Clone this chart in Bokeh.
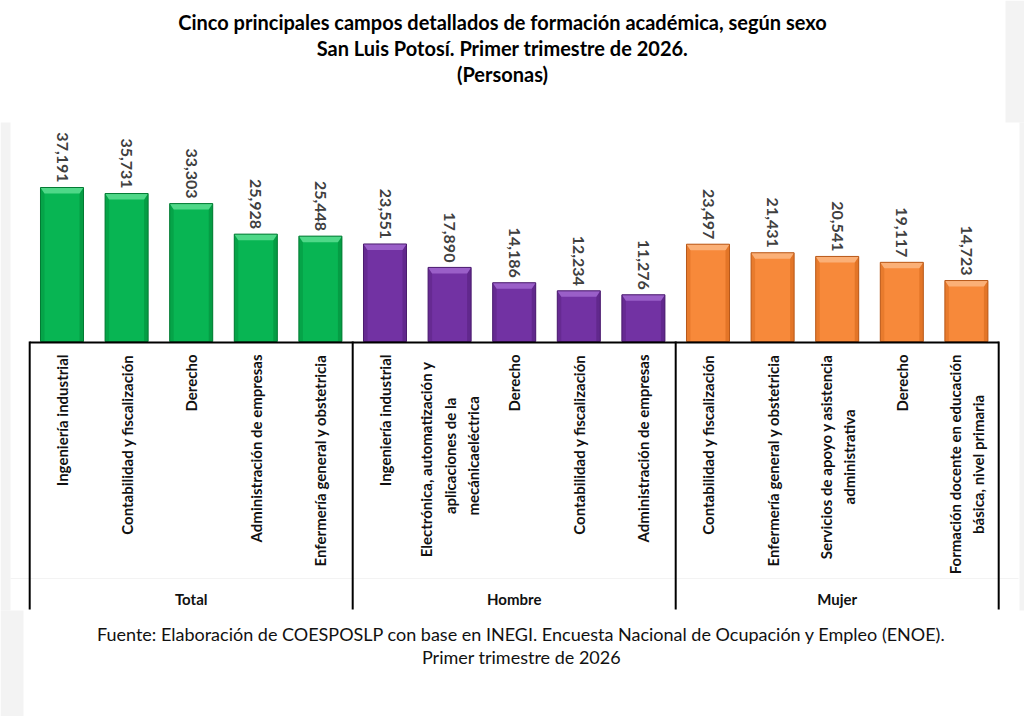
import math
from bokeh.plotting import figure
from bokeh.models import Range1d
from bokeh.embed import file_html
from bokeh.resources import INLINE
from bokeh.core.properties import value

# ---------------------------------------------------------------- data
groups = ["Total", "Hombre", "Mujer"]

total_cats = [
    "Ingeniería industrial",
    "Contabilidad y fiscalización",
    "Derecho",
    "Administración de empresas",
    "Enfermería general y obstetricia",
]
total_vals = [37191, 35731, 33303, 25928, 25448]

hombre_cats = [
    "Ingeniería industrial",
    "Electrónica,  automatización  y\naplicaciones de la\nmecánicaeléctrica",
    "Derecho",
    "Contabilidad y fiscalización",
    "Administración de empresas",
]
hombre_vals = [23551, 17890, 14186, 12234, 11276]

mujer_cats = [
    "Contabilidad y fiscalización",
    "Enfermería general y obstetricia",
    "Servicios de apoyo y asistencia\nadministrativa",
    "Derecho",
    "Formación docente en educación\nbásica, nivel primaria",
]
mujer_vals = [23497, 21431, 20541, 19117, 14723]

title_lines = [
    "Cinco principales campos detallados de formación académica, según sexo",
    "San Luis Potosí. Primer trimestre de 2026.",
    "(Personas)",
]
source_lines = [
    "Fuente: Elaboración de COESPOSLP con base en INEGI. Encuesta Nacional de Ocupación y Empleo (ENOE).",
    "Primer trimestre de 2026",
]

# ---------------------------------------------------------------- styling
FONT = "Lato"
palette = {
    "Total":  dict(body="#08b553", top="#4fd888", side="#04953f", edge="#037a33"),
    "Hombre": dict(body="#7232a3", top="#9a5fc8", side="#5c2585", edge="#4b1c6e"),
    "Mujer":  dict(body="#f7893a", top="#fbb077", side="#dc6f22", edge="#b8591a"),
}

W, H = 1024, 716
SLOT = 64.6            # pixels per category slot
X0 = 61.5              # pixel centre of the first slot
BASE = 341.0           # pixel row of the zero line
PPU = 154.0 / 37191.0  # pixels per person


def dx(px):
    return (px - X0) / SLOT


def dy(py):
    return (BASE - py) / PPU


p = figure(
    width=W, height=H,
    x_range=Range1d(dx(0), dx(W)), y_range=Range1d(dy(H), dy(0)),
    x_axis_type=None, y_axis_type=None,
    toolbar_location=None, output_backend="svg",
    min_border=0, min_border_left=0, min_border_right=0,
    min_border_top=0, min_border_bottom=0,
)
p.outline_line_color = None
p.background_fill_color = "white"
p.border_fill_color = "white"
p.grid.visible = False

# light page margins around the chart panel
strip = "#f3f3f3"
for (x1, y1, x2, y2) in [(0, 122, 10, 610), (0, 610, 23, H),
                         (1005, 0, W, 122), (1019, 122, W, 610)]:
    p.quad(left=dx(x1), right=dx(x2), top=dy(y1), bottom=dy(y2),
           fill_color=strip, line_color=None)

# ---------------------------------------------------------------- bars
series = [
    ("Total", total_cats, total_vals),
    ("Hombre", hombre_cats, hombre_vals),
    ("Mujer", mujer_cats, mujer_vals),
]

half = 0.333
bx = 4.0 / SLOT     # bevel width (x)
by = 6.0 / PPU      # bevel height (y)

idx = 0
for grp, cats, vals in series:
    c = palette[grp]
    xs = list(range(idx, idx + len(vals)))
    left = [x - half for x in xs]
    right = [x + half for x in xs]
    p.quad(left=left, right=right, bottom=0, top=vals,
           fill_color=c["body"], line_color=None)
    # side bevels
    p.patches(
        xs=[[l, l + bx, l + bx, l] for l in left],
        ys=[[v, v - by, 0, 0] for v in vals],
        fill_color=c["side"], fill_alpha=0.55, line_color=None)
    p.patches(
        xs=[[r, r - bx, r - bx, r] for r in right],
        ys=[[v, v - by, 0, 0] for v in vals],
        fill_color=c["side"], fill_alpha=0.75, line_color=None)
    # top bevel
    p.patches(
        xs=[[l, r, r - bx, l + bx] for l, r in zip(left, right)],
        ys=[[v, v, v - by, v - by] for v in vals],
        fill_color=c["top"], line_color=None)
    p.quad(left=left, right=right, bottom=0, top=vals,
           fill_color=None, line_color=c["edge"], line_width=1)

    # value labels, rotated, sitting on the bar tops
    p.text(x=xs, y=[v + 5 / PPU for v in vals],
           text=[f"{v:,}" for v in vals],
           angle=-math.pi / 2, text_align="right", text_baseline="middle",
           text_font=value(FONT), text_font_style="bold",
           text_font_size="16px", text_color="#404040")

    # category labels under the zero line
    p.text(x=xs, y=[dy(354)] * len(xs), text=cats,
           angle=math.pi / 2, anchor="center_right", text_align="center",
           text_font=value(FONT), text_font_style="bold",
           text_font_size="15px", text_color="#111111",
           text_line_height=1.3)

    # group label
    p.text(x=[(xs[0] + xs[-1]) / 2], y=[dy(598)], text=[grp],
           text_align="center", text_baseline="middle",
           text_font=value(FONT), text_font_style="bold",
           text_font_size="15px", text_color="#111111")
    idx += len(vals)

# faint row rule inside the label box
p.segment(x0=[dx(10)], y0=[dy(578)], x1=[dx(1018)], y1=[dy(578)],
          line_color="#f3f3f3", line_width=1)

# label box: top rule and group separators
n = idx
p.segment(x0=[-0.5], y0=[dy(342)], x1=[n - 0.5], y1=[dy(342)],
          line_color="black", line_width=2)
seps = [-0.5, 4.5, 9.5, n - 0.5]
p.segment(x0=seps, y0=[dy(341)] * 4, x1=seps, y1=[dy(609)] * 4,
          line_color="black", line_width=2)

# ---------------------------------------------------------------- texts
p.text(x=[dx(502)] * 3, y=[dy(21), dy(47), dy(73)], text=title_lines,
       text_align="center", text_baseline="middle",
       text_font=value(FONT), text_font_style="bold",
       text_font_size="20px", text_color="black")

p.text(x=[dx(521)] * 2, y=[dy(633), dy(656)], text=source_lines,
       text_align="center", text_baseline="middle",
       text_font=value(FONT), text_font_size="18px", text_color="#111111")

open("out.html", "w").write(file_html(p, INLINE))
